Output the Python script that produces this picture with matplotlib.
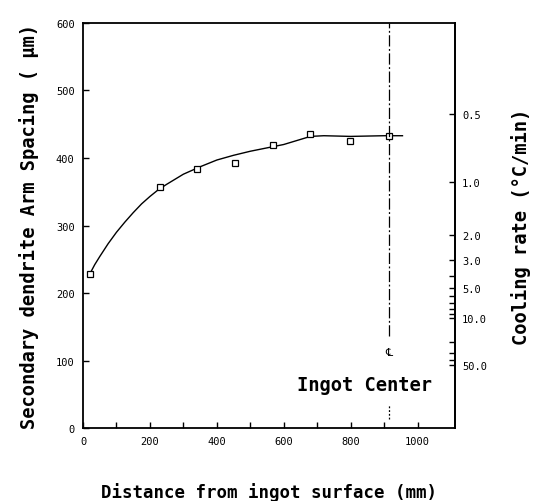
import numpy as np
import matplotlib
matplotlib.use("Agg")
import matplotlib.pyplot as plt
from matplotlib.ticker import FixedLocator, NullFormatter, FixedFormatter

# ---- data ----
dist_pts = [20, 230, 340, 454, 567, 678, 797, 916]
sdas_pts = [228, 357, 384, 392, 419, 436, 425, 433]

curve_x = [20, 35, 50, 75, 100, 125, 150, 175, 200, 225, 250, 300, 350, 400,
           450, 500, 550, 600, 640, 680, 720, 800, 900, 955]
curve_y = [228, 242, 254, 273, 290, 305, 319, 332, 343, 353, 361, 376, 387,
           397, 404, 410, 415, 420, 426, 432, 433, 432, 433, 433]

x_ticks = [0, 200, 400, 600, 800, 1000]
x_minor = [100, 300, 500, 700, 900]
y_ticks = [0, 100, 200, 300, 400, 500, 600]

rate_ticks = [0.5, 1.0, 2.0, 3.0, 5.0, 10.0, 50.0]
rate_labels = ["0.5", "1.0", "2.0", "3.0", "5.0", "10.0", "50.0"]
rate_minor = [4, 6, 7, 8, 9, 20, 30, 40]

center_x = 915
center_upper = [136, 600]
center_lower = [13, 36]

# SDAS = K * rate^(-N)
K = 365.0
N = 0.35


def sdas_to_rate(s):
    s = np.maximum(np.asarray(s, dtype=float), 1e-3)
    return (K / s) ** (1.0 / N)


def rate_to_sdas(r):
    r = np.maximum(np.asarray(r, dtype=float), 1e-12)
    return K * r ** (-N)


mono = "DejaVu Sans Mono"

fig = plt.figure(figsize=(5.37, 5.02), dpi=100)
ax = fig.add_axes([0.1546, 0.1454, 0.6927, 0.8068])

ax.plot(curve_x, curve_y, color="black", lw=1.0)
ax.plot(dist_pts, sdas_pts, linestyle="none", marker="s", markersize=5,
        markerfacecolor="white", markeredgecolor="black", markeredgewidth=0.9)

# ingot centre line
ax.plot([center_x, center_x], center_upper, color="black", lw=0.9,
        dashes=(9, 2, 1.5, 2))
ax.plot([center_x, center_x], center_lower, color="black", lw=0.9,
        dashes=(1.5, 1.5))
ax.text(center_x, 113, "\u2104", ha="center", va="center", fontsize=8,
        family=["DejaVu Sans", "Noto Sans"])
ax.text(842, 65, "Ingot Center", ha="center", va="center", fontsize=13.5,
        family=mono, fontweight="bold")

ax.set_xlim(0, 1112)
ax.set_ylim(0, 600)
ax.set_xticks(x_ticks)
ax.xaxis.set_minor_locator(FixedLocator(x_minor))
ax.set_yticks(y_ticks)
ax.tick_params(which="both", direction="in", length=4, width=1.0,
               labelsize=7.5, top=False, right=False, pad=6)
for lab in ax.get_xticklabels() + ax.get_yticklabels():
    lab.set_family(mono)

for sp in ax.spines.values():
    sp.set_linewidth(1.3)

ax.set_xlabel("Distance from ingot surface (mm)", family=mono,
              fontweight="bold", fontsize=12.5, labelpad=26)
ax.set_ylabel("Secondary dendrite Arm Spacing ( \u03bcm)", family=mono,
              fontweight="bold", fontsize=13.5, labelpad=12)

sec = ax.secondary_yaxis("right", functions=(sdas_to_rate, rate_to_sdas))
sec.set_yticks(rate_ticks)
sec.yaxis.set_major_formatter(FixedFormatter(rate_labels))
sec.yaxis.set_minor_locator(FixedLocator(rate_minor))
sec.yaxis.set_minor_formatter(NullFormatter())
sec.tick_params(which="both", direction="in", length=4, width=1.0,
                labelsize=7.5, pad=5)
sec.spines["right"].set_linewidth(1.3)
for lab in sec.get_yticklabels():
    lab.set_family(mono)
sec.set_ylabel("Cooling rate (\u00b0C/min)", family=mono, fontweight="bold",
               fontsize=13.5, labelpad=17)

fig.savefig("out.png", dpi=100)
